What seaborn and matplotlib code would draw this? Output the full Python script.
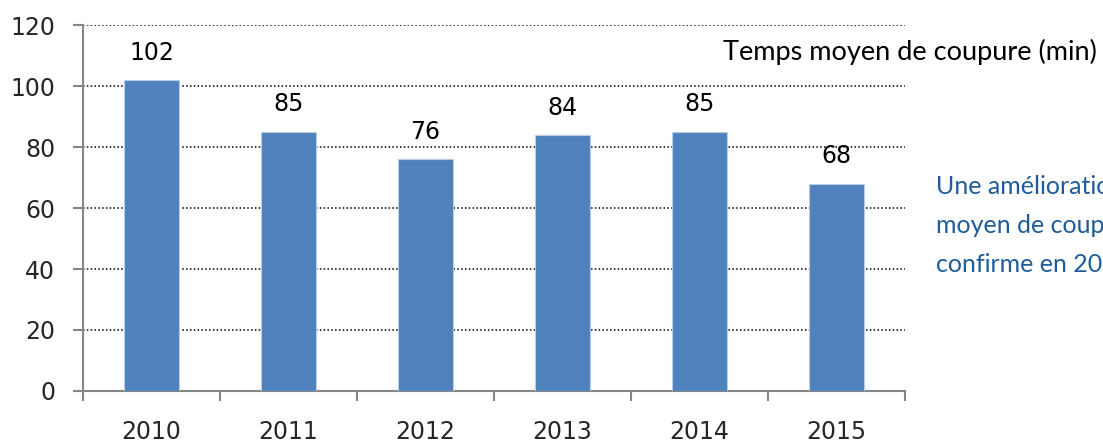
import matplotlib
matplotlib.use("Agg")
import matplotlib.pyplot as plt
import seaborn as sns
import pandas as pd
from matplotlib.ticker import MultipleLocator, FixedLocator

# Données : temps moyen de coupure par année
annees = ["2010", "2011", "2012", "2013", "2014", "2015"]
temps_coupure = [102, 85, 76, 84, 85, 68]
titre_serie = "Temps moyen de coupure (min)"
commentaire = "Une amélioration du temps\nmoyen de coupure se\nconfirme en 2015"

df = pd.DataFrame({"annee": annees, "temps": temps_coupure})

sns.set_style("white")
plt.rcParams["font.family"] = ["DejaVu Sans"]

fig = plt.figure(figsize=(11.03, 4.42), dpi=100)
ax = fig.add_axes([0.0752, 0.1154, 0.7453, 0.828])

sns.barplot(data=df, x="annee", y="temps", color="#4F81BD", saturation=1,
            width=0.4, edgecolor="#B9CDE5", linewidth=0.8, ax=ax, zorder=3)

# étiquettes de valeurs
for cont in ax.containers:
    ax.bar_label(cont, fmt="%d", padding=11, fontsize=17, color="black")

ax.set_ylim(0, 120)
ax.set_xlim(-0.5, len(annees) - 0.5)
ax.yaxis.set_major_locator(MultipleLocator(20))
ax.set_xlabel("")
ax.set_ylabel("")

# grille pointillée
ax.grid(axis="y", linestyle=(0, (1, 1.5)), color="black", linewidth=1.1, zorder=0)
ax.grid(axis="x", visible=False)

for s in ["top", "right"]:
    ax.spines[s].set_visible(False)
for s in ["left", "bottom"]:
    ax.spines[s].set_color("#868686")
    ax.spines[s].set_linewidth(1.5)

ax.tick_params(axis="y", left=True, length=7, width=1.5, color="#868686", pad=13, labelsize=17)
ax.tick_params(axis="x", which="major", bottom=True, length=0, pad=21, labelsize=17)
ax.xaxis.set_minor_locator(FixedLocator([i - 0.5 for i in range(len(annees) + 1)]))
ax.tick_params(axis="x", which="minor", bottom=True, length=7, width=1.5, color="#868686")

# textes à droite
fig.text(0.6555, 0.882, titre_serie, fontsize=19.5, family=["Lato", "DejaVu Sans"],
         va="center", ha="left", color="black")
fig.text(0.849, 0.49, commentaire, fontsize=18, family=["Lato", "DejaVu Sans"],
         va="center", ha="left", color="#1F5C99", linespacing=1.85)

fig.savefig("out.png", dpi=100)
